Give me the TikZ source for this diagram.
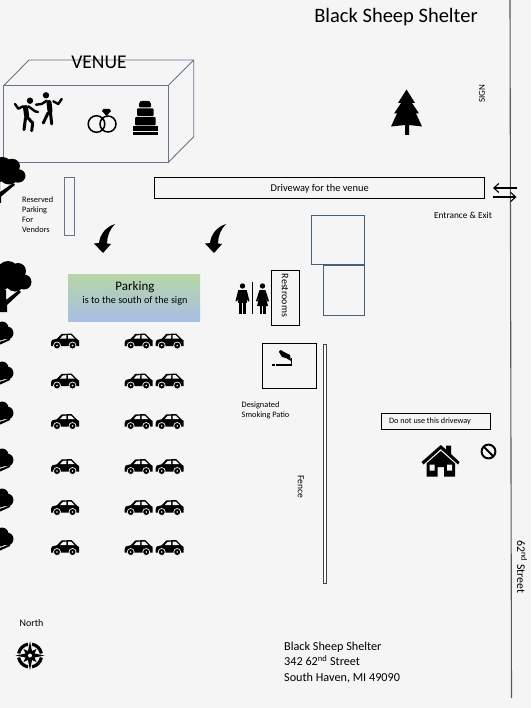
\documentclass[tikz,border=0pt]{standalone}
\usepackage{fontspec}
\setmainfont{Carlito}
\usetikzlibrary{arrows.meta}
\definecolor{bg}{HTML}{F5F5F5}
\definecolor{slate}{HTML}{66758A}
\definecolor{navy}{HTML}{44617F}
\tikzset{
  x=1pt,y=-1pt,
  lbl/.style={inner sep=0pt,font=\fontsize{#1}{#1}\selectfont,text=black},
  lbl/.default=8,
  blk/.style={draw=black,line width=1pt,fill=none},
  slt/.style={draw=slate,line width=0.9pt},
  nvy/.style={draw=navy,line width=0.9pt},
  flow/.style={-{Straight Barb[length=5pt,width=9pt]},line width=1.1pt},
  car/.pic={
    \fill[black] (-14,2) -- (-13,-.5) -- (-8,-1.8) -- (-3.5,-6.5) -- (6.5,-7) -- (12,-1.5) -- (14,0) -- (14,5.5) -- (-14,5.5) -- cycle;
    \fill[bg] (-5,-1.8) -- (-2.2,-5) -- (1.4,-5.4) -- (1.4,-1.8) -- cycle;
    \fill[bg] (3,-5.4) -- (6,-5.4) -- (9.5,-1.8) -- (3,-1.8) -- cycle;
    \fill[black,draw=bg,line width=.7pt] (-8,5) circle (3.5) (7.5,5) circle (3.5);
    \fill[bg] (-8,5) circle (.9) (7.5,5) circle (.9);
  },
  bigtree/.pic={
    \fill[black] (8,11) circle (11) (18,10) circle (8) (24,21) circle (7.5) (15,21) circle (9.5) (1,19) circle (10.5);
    \fill[black] (0,29) -- (6,29) -- (6,39) -- (19,29) -- (21,31) -- (7,44) -- (7,51) -- (0,51) -- cycle;
  },
  smalltree/.pic={
    \fill[black] (1,-5) circle (6.5) (6,0) circle (6.5) (0,2) circle (5.5);
    \fill[black] (-3,9.5) -- (9,5.5) -- (9,7) -- (-3,12.5) -- cycle;
  },
  curved/.pic={
    \fill[black] (0,0) .. controls (-9,3) and (-15,10) .. (-16,19) -- (-21,19.5) -- (-12,29) -- (-4,20) -- (-8,19.5) .. controls (-8,12) and (-5,5) .. (0,0) -- cycle;
  },
}
\begin{document}
\begin{tikzpicture}
\useasboundingbox (0,0) rectangle (531,708);
\fill[bg] (0,0) rectangle (531,708);
\clip (0,0) rectangle (531,708);

% road
\draw[draw=black!65,line width=1.1pt] (510,0) -- (511.5,698);

% title
\node[lbl=20.5] (title) at (396,17) {Black Sheep Shelter};

% venue
\draw[slt,line join=round] (3.7,85.7) rectangle (168,162.7);
\draw[slt,line join=round] (3.7,85.7) -- (29,60) -- (193.7,60) -- (168,85.7);
\draw[slt,line join=round] (193.7,60) -- (193.7,136.7) -- (168,162.7);
\node[lbl=19.5] (venue) at (99,62) {VENUE};

% dancers
\begin{scope}[line width=2.4pt,line cap=round,line join=round]
  \fill (30,100.7) circle (3.2);
  \draw (15,104) -- (18.3,108.7) -- (23.3,106.3);
  \draw (28.3,106.3) -- (35,111.3) -- (38,112);
  \draw[line width=5pt] (25.5,107.5) -- (26.7,116);
  \draw[line width=3pt] (25.5,118) -- (24,129.7);
  \draw[line width=3pt] (28,118) -- (32.7,123) -- (31.7,130.7);
  \fill (46,95.3) circle (3.2);
  \draw (36,104.7) -- (41.7,104) -- (46.7,100.7);
  \draw (53.3,101.3) -- (58.3,104) -- (61.7,99);
  \draw[line width=5pt] (49,102.5) -- (50,111);
  \draw[line width=3pt] (48,113) -- (43.3,123);
  \draw[line width=3pt] (50.5,113) -- (51.7,124);
\end{scope}
% rings
\draw[line width=1.5pt] (96.5,124) circle (8.3) (108,124) circle (8);
\fill (103.5,109) -- (109.5,109) -- (111,111) -- (106.5,116) -- (102,111) -- cycle;
% cake
\fill[rounded corners=1.5pt] (139.5,102) -- (141,101) -- (149,101) -- (150.5,102) -- (151.5,107.5) -- (138.5,107.5) -- cycle;
\fill[rounded corners=1pt] (137,108.5) rectangle (153.5,116);
\fill[rounded corners=1pt] (135,117) rectangle (155.5,125.5);
\fill (133,126.5) rectangle (157.5,131);
\fill (133,132) rectangle (157.5,135);

% trees
\pic at (-6,157) [yscale=.9] {bigtree};
\pic at (0,261) {bigtree};
\foreach \yy in {333,373,413,460,500,539} \pic at (1,\yy) {smalltree};

% reserved
\draw[slt] (64,177.5) rectangle (74,235.5);
\node[lbl=8.3,align=left,anchor=north west,font=\fontsize{8.3}{10}\selectfont] (reserved) at (22,197) {Reserved\\Parking\\For\\Vendors};

% driveway
\node[blk,minimum width=330.5pt,minimum height=20.5pt,inner sep=0pt,fill=bg] (driveway) at (319.7,188.2) {};
\node[lbl=10.4] at (319.7,189) {Driveway for the venue};

% arrows at entrance
\coordinate (exitA) at (516.5,188);
\coordinate (exitB) at (493,188);
\coordinate (entA) at (493,197);
\coordinate (entB) at (516.5,197);
\draw[flow] (exitA) -- (exitB);
\draw[flow] (entA) -- (entB);
\node[lbl=9.3] (entrance) at (463,215) {Entrance \& Exit};

% sign and pine
\node[lbl=9,rotate=90] (sign) at (482,93.5) {SIGN};
\fill (406.5,89.5) -- (415,103) -- (412,103) -- (419,113.5) -- (416,113.5) -- (422,126.5) -- (409,125) -- (409,135) -- (405,135) -- (405,125) -- (391,126.5) -- (397,113.5) -- (394,113.5) -- (401,103) -- (398,103) -- cycle;

% blue boxes
\draw[nvy] (311.5,215) rectangle (364.5,264.5);
\draw[nvy] (323,265.5) rectangle (364.5,315.5);

% curved arrows
\pic at (115,224) {curved};
\pic at (226,224) {curved};

% parking
\fill[top color={rgb,255:red,182;green,214;blue,166},bottom color={rgb,255:red,168;green,190;blue,228}] (68,274.5) rectangle (200,321);
\node[lbl=13] (parking) at (135,287) {Parking};
\node[lbl=10.2] (south) at (135,300.5) {is to the south of the sign};

% restroom icons
\begin{scope}
  \fill (242.5,286) circle (2.7);
  \fill (238.3,290) rectangle (246.7,303);
  \fill (238.3,290) -- (235.5,301) -- (237,301.5) -- (239.5,295) -- cycle;
  \fill (246.7,290) -- (249.5,301) -- (248,301.5) -- (245.5,295) -- cycle;
  \fill (239,302) rectangle (242,314);
  \fill (243,302) rectangle (246,314);
  \fill (251.7,282) rectangle (252.8,314);
  \fill (262.5,286) circle (2.7);
  \fill (259.5,290) -- (265.5,290) -- (269,301) -- (267.5,301.5) -- (265.5,296) -- (268,306) -- (257,306) -- (259.5,296) -- (257.5,301.5) -- (256,301) -- cycle;
  \fill (259.5,305) rectangle (262,314);
  \fill (263,305) rectangle (265.5,314);
\end{scope}
\draw[blk] (271.3,270.3) rectangle (299.7,325.3);
\node[lbl=10,rotate=-90] (rest) at (285,295.5) {Restrooms};

% smoking
\draw[blk] (262.5,343.5) rectangle (316.5,388.5);
\fill (271.5,363.5) rectangle (275,366);
\fill (276,363.5) rectangle (291,366);
\fill (291,358) rectangle (292,366);
\fill (279,352) .. controls (279,349) and (283,350) .. (284,352) -- (290,355) -- (291,361) -- (286,358) -- (282,357) -- cycle;
\node[lbl=8.3,align=left,anchor=north west,font=\fontsize{8.3}{10}\selectfont] (smoke) at (241.5,401.5) {Designated\\Smoking Patio};

% fence
\draw[draw=black!75,line width=.9pt,fill=white] (323.3,344) rectangle (326,583);
\node[lbl=9.5,rotate=-90] (fence) at (301,487) {Fence};

% cars
\foreach \yy in {340.5,380.5,421,466,507,547}
  \foreach \xx in {65,138.7,169.7}
    \pic at (\xx,\yy) {car};

% do not use
\node[blk,minimum width=109.5pt,minimum height=16.5pt,inner sep=0pt] (dnu) at (436.2,421.3) {};
\node[lbl=8.2] at (430,421.5) {Do not use this driveway};

% house
\fill (440.8,445) -- (446,449.5) -- (446,445.5) -- (451,445.5) -- (451,454) -- (459.5,462) -- (458,464.5) -- (440.8,449) -- (423.5,464.5) -- (421.5,462) -- cycle;
\fill (440.8,451) -- (455,463.5) -- (455,476.5) -- (444,476.5) -- (444,467) -- (437.5,467) -- (437.5,476.5) -- (426.5,476.5) -- (426.5,463.5) -- cycle;
\fill[bg] (429.5,464.5) rectangle (434.5,470.5) (447,464.5) rectangle (452,470.5);
% no sign
\draw[line width=2pt] (488.5,451.5) circle (6.9);
\draw[line width=2pt] (483.7,446.7) -- (493.3,456.3);

% street
\node[lbl=11.8,rotate=-90] (street) at (522,567) {62\textsuperscript{nd} Street};

% north + compass
\node[lbl=10] (north) at (31.5,623) {North};
\begin{scope}[shift={(30,655.5)}]
  \foreach \a in {0,90,180,270}
    \draw[line width=3.2pt] (\a+10:11.5) arc[start angle=\a+10,end angle=\a+80,radius=11.5];
  \foreach \a in {0,90,180,270}
    \fill[bg,rotate=\a] (-4,0) -- (0,-17) -- (4,0) -- cycle;
  \fill (0,-14.5) -- (2,-4.5) -- (6.5,-6.5) -- (4.5,-2) -- (14.5,0) -- (4.5,2) -- (6.5,6.5) -- (2,4.5) -- (0,14.5) -- (-2,4.5) -- (-6.5,6.5) -- (-4.5,2) -- (-14.5,0) -- (-4.5,-2) -- (-6.5,-6.5) -- (-2,-4.5) -- cycle;
  \fill[bg] (0,0) circle (2);
\end{scope}

% address
\node[lbl=12.2,align=left,anchor=north west,font=\fontsize{12.2}{15.5}\selectfont] (addr) at (284,641.5) {Black Sheep Shelter\\342 62\textsuperscript{nd} Street\\South Haven, MI 49090};
\end{tikzpicture}
\end{document}
